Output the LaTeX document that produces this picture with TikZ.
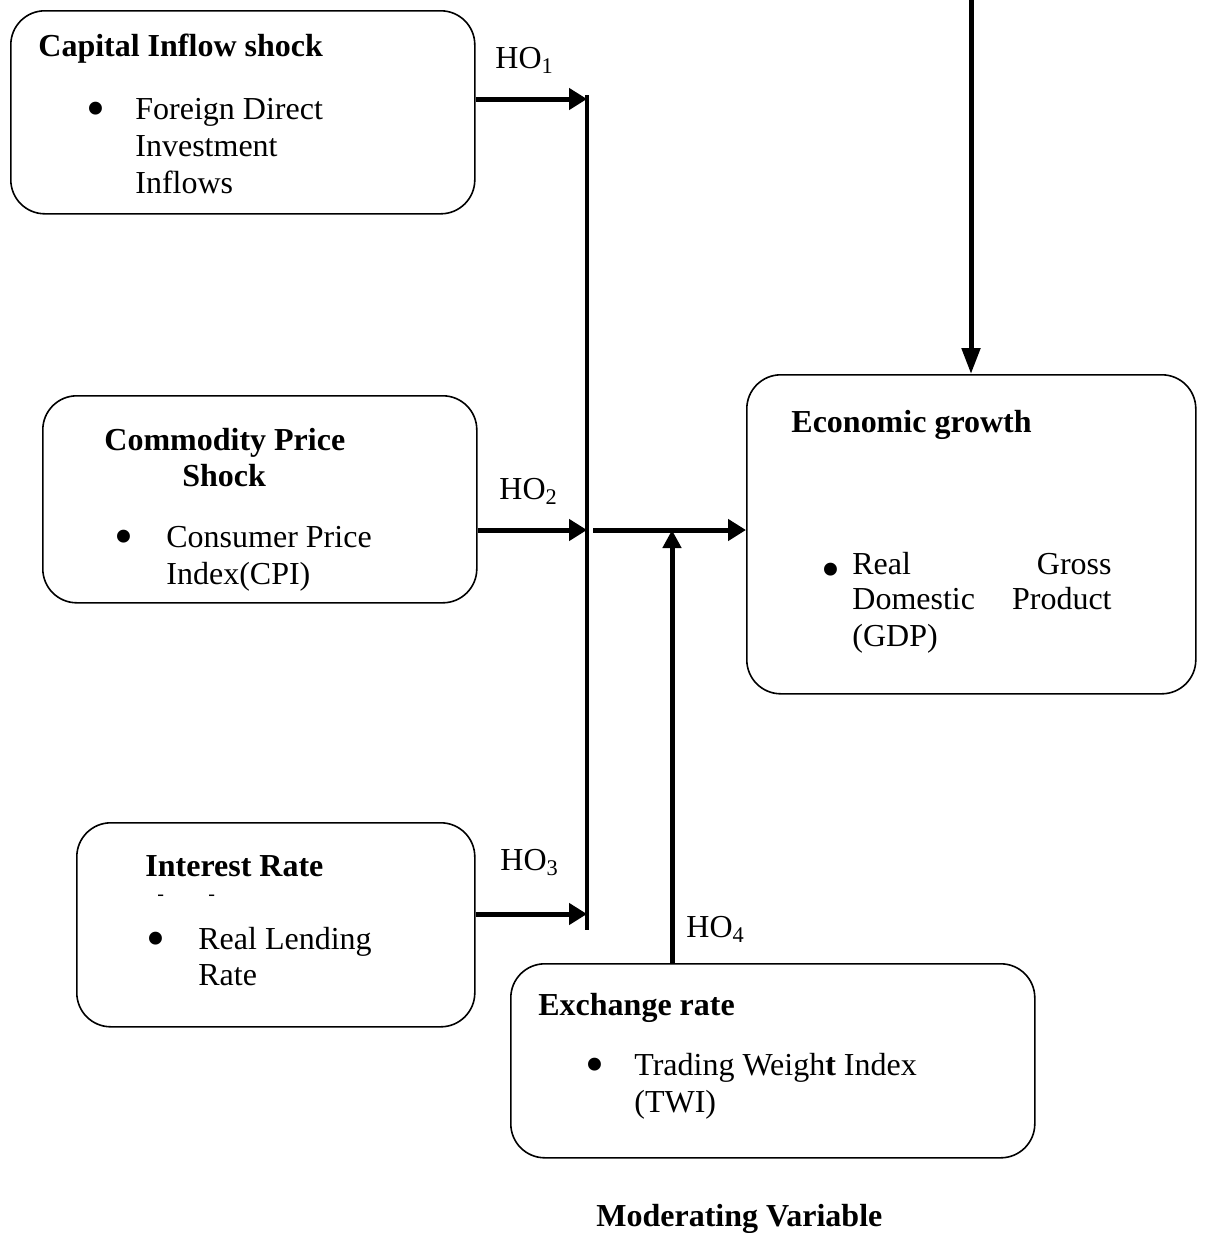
\documentclass[tikz,border=0pt]{standalone}
\usepackage{fontspec}
\setmainfont{Liberation Serif}
\usetikzlibrary{arrows.meta}
\begin{document}
\begin{tikzpicture}[x=0.5pt,y=-0.5pt,
  box/.style={draw, line width=0.8pt, rounded corners=17pt, inner sep=0pt, anchor=north west},
  txt/.style={anchor=base west, inner sep=0pt, font=\fontsize{16}{18.5}\selectfont},
  txe/.style={anchor=base east, inner sep=0pt, font=\fontsize{16}{18.5}\selectfont},
  btxt/.style={txt, font=\fontsize{16}{18.5}\selectfont\bfseries},
  dsh/.style={anchor=base west, inner sep=0pt, font=\fontsize{10}{11}\selectfont},
  bul/.style={anchor=center, inner sep=0pt, font=\fontsize{27}{30}\selectfont},
  arr/.style={line width=2.5pt, -{Triangle[length=9pt,width=10.5pt]}},
  bar/.style={line width=2.2pt}
]
\useasboundingbox (0,0) rectangle (1209,1233);

% boxes
\node[box, minimum width=232pt, minimum height=101.5pt] (cap) at (10,10) {};
\node[box, minimum width=217pt, minimum height=103.5pt] (com) at (42,395) {};
\node[box, minimum width=199pt, minimum height=102pt] (int) at (76,822) {};
\node[box, minimum width=262pt, minimum height=97pt] (exc) at (510,963) {};
\node[box, minimum width=224.5pt, minimum height=159.5pt] (eco) at (746,374) {};

% Capital inflow
\node[btxt] (capT) at (38,56) {Capital Inflow shock};
\node[bul] (capB) at (96,114) {•};
\node[txt] (capL1) at (135,119) {Foreign Direct};
\node[txt] (capL2) at (135,156) {Investment};
\node[txt] (capL3) at (135,193) {Inflows};

% Commodity
\node[btxt] (comT1) at (104,450) {Commodity Price};
\node[btxt] (comT2) at (182,486) {Shock};
\node[bul] (comB) at (124,542) {•};
\node[txt] (comL1) at (166,547) {Consumer Price};
\node[txt] (comL2) at (166,584) {Index(CPI)};

% Interest
\node[btxt] (intT) at (145,876) {Interest Rate};
\node[dsh] (intD1) at (157,900) {-};
\node[dsh] (intD2) at (208,900) {-};
\node[bul] (intB) at (156,944) {•};
\node[txt] (intL1) at (198,949) {Real Lending};
\node[txt] (intL2) at (198,985) {Rate};

% Exchange
\node[btxt] (excT) at (538,1015) {Exchange rate};
\node[bul] (excB) at (595,1070) {•};
\node[txt] (excL1) at (634,1075) {Trading Weigh\textbf{t} Index};
\node[txt] (excL2) at (634,1112) {(TWI)};

% Economic growth
\node[btxt] (ecoT) at (791,432) {Economic growth};
\node[bul] (ecoB) at (831,575) {•};
\node[txt] (ecoL1a) at (852,574) {Real};
\node[txe] (ecoL1b) at (1112,574) {Gross};
\node[txt] (ecoL2a) at (852,609) {Domestic};
\node[txe] (ecoL2b) at (1112,609) {Product};
\node[txt] (ecoL3) at (852,646) {(GDP)};

% Moderating
\node[btxt] (mod) at (596,1226) {Moderating Variable};

% HO labels
\node[txt] (ho1) at (495,68) {HO\textsubscript{1}};
\node[txt] (ho2) at (499,499) {HO\textsubscript{2}};
\node[txt] (ho3) at (500,870) {HO\textsubscript{3}};
\node[txt] (ho4) at (686,937) {HO\textsubscript{4}};

% connector coordinates
\coordinate (barT) at (587,95);
\coordinate (barB) at (587,930);
\coordinate (j1) at (587,99);
\coordinate (j2) at (587,530);
\coordinate (j3) at (587,914);
\coordinate (m) at (593,530);
\coordinate (mt) at (672,530);
\coordinate (top) at (971,0);

\draw[bar] (barT) -- (barB);
\draw[arr] (cap.east |- j1) -- (j1);
\draw[arr] (com.east |- j2) -- (j2);
\draw[arr] (int.east |- j3) -- (j3);
\draw[arr] (m) -- (eco.west |- m);
\draw[line width=2.5pt, -{Triangle[length=9pt,width=9pt]}] (mt |- exc.north) -- (mt);
\draw[line width=2.5pt, -{Triangle[length=13pt,width=9pt]}] (top) -- (top |- eco.north);
\end{tikzpicture}
\end{document}
